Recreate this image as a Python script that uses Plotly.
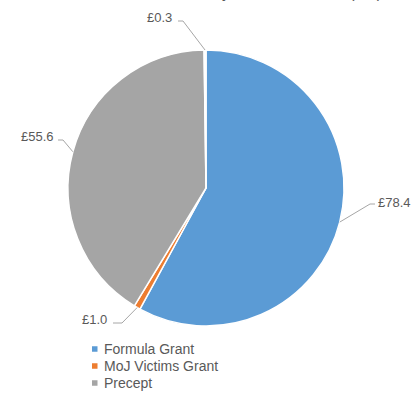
import math
import plotly.graph_objects as go

# ---- data ----
categories = ["Formula Grant", "MoJ Victims Grant", "Precept", "Other"]
values = [78.4, 1.0, 55.6, 0.3]
value_labels = ["£78.4", "£1.0", "£55.6", "£0.3"]
legend_categories = ["Formula Grant", "MoJ Victims Grant", "Precept"]
title_text = "Total Police Income by source 2018/19 (£m)"

# ---- styles / layout ----
colors = ["#5B9BD5", "#ED7D31", "#A5A5A5", "#FFFFFF"]
W, H = 420, 393
CX, CY, R = 206, 188, 138          # pie centre / radius in pixels
TEXT = "#595959"
LINE = "#A6A6A6"
# label text anchor (pixel), and xanchor, elbow offsets
label_pos = [(376, 202, "left"), (109, 319, "right"), (56, 136, "right"), (174, 17, "right")]
elbow_pos = [(370, 204, 375), (122, 323, 113), (63, 140, 58), (183, 21, 178)]

def px(x):
    return x / W

def py(y):
    return 1 - y / H

fig = go.Figure()
fig.add_trace(go.Pie(
    labels=categories, values=values, sort=False, direction="clockwise",
    rotation=0, textinfo="none", hoverinfo="label+value",
    marker=dict(colors=colors, line=dict(color="white", width=1.5)),
    domain=dict(x=[px(CX - R), px(CX + R)], y=[py(CY + R), py(CY - R)]),
    showlegend=False,
))

shapes = []
annotations = []
total = sum(values)
cum = 0.0
for i, v in enumerate(values):
    mid = (cum + v / 2) / total * 2 * math.pi
    cum += v
    ax = CX + R * math.sin(mid)
    ay = CY - R * math.cos(mid)
    ex, ey, hx = elbow_pos[i]
    shapes.append(dict(type="path", xref="paper", yref="paper",
                       path=f"M {px(ax)} {py(ay)} L {px(ex)} {py(ey)} L {px(hx)} {py(ey)}",
                       line=dict(color=LINE, width=1)))
    lx, ly, anc = label_pos[i]
    annotations.append(dict(text=value_labels[i], x=px(lx), y=py(ly), xref="paper", yref="paper",
                            xanchor=anc, yanchor="middle", showarrow=False,
                            font=dict(size=13, color=TEXT, family="Liberation Sans")))

# legend (manual, last entry clipped like the reference)
leg_y = [349, 366, 383]
for i, name in enumerate(legend_categories):
    y = leg_y[i]
    shapes.append(dict(type="rect", xref="paper", yref="paper",
                       x0=px(92), x1=px(97.5), y0=py(y + 2.75), y1=py(y - 2.75),
                       fillcolor=colors[i], line=dict(width=0)))
    annotations.append(dict(text=name, x=px(102), y=py(y), xref="paper", yref="paper",
                            xanchor="left", yanchor="middle", showarrow=False,
                            font=dict(size=14, color=TEXT, family="Liberation Sans")))

# title, mostly above the visible area
annotations.append(dict(text=title_text, x=px(384), y=py(3), xref="paper", yref="paper",
                        xanchor="right", yanchor="bottom", showarrow=False,
                        font=dict(size=16, color=TEXT, family="Liberation Sans")))

fig.update_layout(width=W, height=H, margin=dict(l=0, r=0, t=0, b=0),
                  paper_bgcolor="white", plot_bgcolor="white",
                  shapes=shapes, annotations=annotations)
fig.write_html("out.html")
